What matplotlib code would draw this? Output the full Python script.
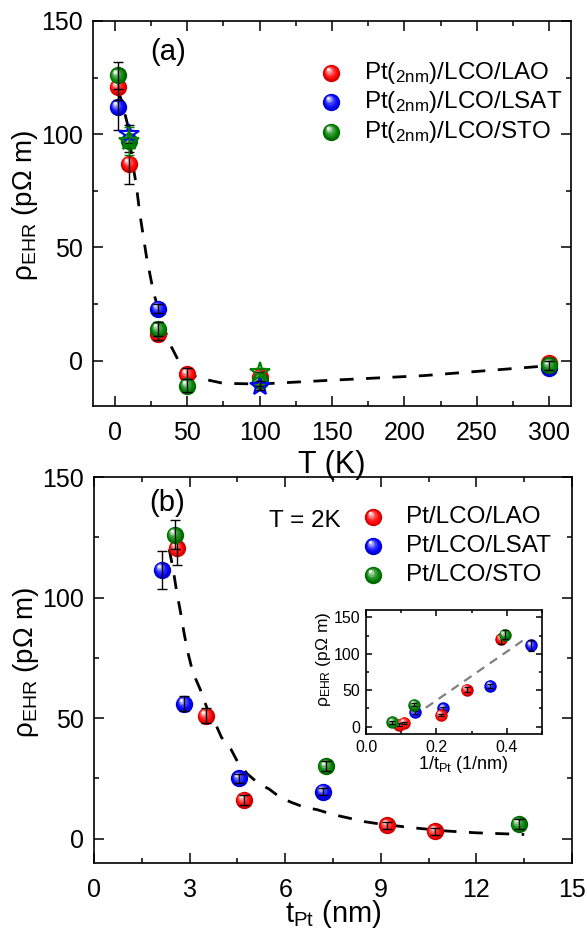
import numpy as np
import matplotlib
matplotlib.use("Agg")
import matplotlib.pyplot as plt
from matplotlib.ticker import MultipleLocator
from matplotlib.transforms import ScaledTranslation
from matplotlib.colors import to_rgb

plt.rcParams['font.family'] = ['Liberation Sans', 'DejaVu Sans']
plt.rcParams['mathtext.default'] = 'regular'

# ---------------- panel (a): temperature dependence (t_Pt = 2 nm) ----------------
T_lao = [2, 10, 30, 50, 100, 300]
rho_lao_T = [121, 87, 12, -6, -7, -1]
err_lao_T = [6, 9, 3, 3, 2, 2]

T_lsat = [2, 30, 300]
rho_lsat_T = [112, 23, -3]
err_lsat_T = [10, 2, 2]
T_lsat_star = [10, 100]
rho_lsat_star = [100, -11]
err_lsat_star = [4, 2]

T_sto = [2, 10, 30, 50, 100, 300]
rho_sto_T = [126, 97, 14, -11, -9, -2]
err_sto_T = [6, 5, 3, 3, 2, 2]
T_sto_star = [10, 100]
rho_sto_star = [97, -5]
err_sto_star = [6, 2]

T_guide = [2, 4.6, 8.6, 12.7, 15, 17.3, 21.9, 26.5, 32, 38, 44, 50, 57, 75, 100, 144, 213, 300]
rho_guide_T = [120, 115, 105, 86, 77, 65, 46, 31, 18, 7.5, 0, -4.5, -7.5, -10, -10.3, -8.8, -6.6, -2.2]

# ---------------- panel (b): thickness dependence at T = 2 K ----------------
t_lao = [2.6, 3.5, 4.7, 9.2, 10.7]
rho_lao_t = [120.5, 51, 16, 5.5, 3]
err_lao_t = [7, 3, 2, 1.5, 1.5]

t_lsat = [2.13, 2.83, 4.55, 7.2]
rho_lsat_t = [111.5, 56, 25, 19.5]
err_lsat_t = [8, 3, 2, 1.5]

t_sto = [2.54, 7.28, 13.33]
rho_sto_t = [126, 30, 6]
err_sto_t = [6, 2, 2]

t_guide = [2.36, 2.48, 2.6, 2.7, 2.83, 2.95, 3.1, 3.33, 3.55, 3.8, 4.0, 4.3, 4.5, 4.8,
           5.15, 5.5, 5.85, 6.2, 6.6, 7.0, 7.5, 8.0, 8.5, 9.0, 10.0, 11.0, 12.0, 13.5]
rho_guide_t = [120, 112, 102, 95, 85, 77, 69, 62, 54, 48, 42, 37, 32, 27,
               23, 20.5, 17, 15, 13, 12, 10, 8.5, 7, 6, 4.5, 3.2, 2.4, 1.7]

# linear guide in the inset (rho vs 1/t)
inv_fit_x = [0.17, 0.46]
inv_fit_y = [26, 123]

RED = '#ff0000'
BLUE = '#0000ff'
GREEN = '#008000'

labels_a = ['Pt($_{2nm}$)/LCO/LAO', 'Pt($_{2nm}$)/LCO/LSAT', 'Pt($_{2nm}$)/LCO/STO']
labels_b = ['Pt/LCO/LAO', 'Pt/LCO/LSAT', 'Pt/LCO/STO']
YLABEL = 'ρ$_{EHR}$ (pΩ m)'

fig = plt.figure(figsize=(5.87, 9.31), dpi=100)


def mix(c, other, f):
    c = np.array(to_rgb(c))
    o = np.array(to_rgb(other))
    return tuple(c * (1 - f) + o * f)


def ball(ax, x, y, color, ms, z=5, transform=None, n=7):
    """Glossy sphere marker: stacked discs fading to a highlight at upper left."""
    base = transform if transform is not None else ax.transData
    ax.plot(x, y, 'o', ms=ms, color=mix(color, 'black', 0.18), mew=0,
            transform=base, zorder=z, clip_on=False)
    for i in range(1, n):
        f = i / (n - 1)
        size = ms * (0.92 - 0.74 * f)
        col = mix(color, 'white', 0.92 * f ** 2.0)
        off = ScaledTranslation(-0.17 * ms * f / 72, 0.21 * ms * f / 72, fig.dpi_scale_trans)
        ax.plot(x, y, 'o', ms=size, color=col, mew=0, transform=base + off,
                zorder=z + 0.01 * i, clip_on=False)


def style_axes(ax, xmaj, xmin, ymaj, ymin, fs, L=7, xpad=11, ypad=7):
    ax.xaxis.set_major_locator(MultipleLocator(xmaj))
    ax.xaxis.set_minor_locator(MultipleLocator(xmin))
    ax.yaxis.set_major_locator(MultipleLocator(ymaj))
    ax.yaxis.set_minor_locator(MultipleLocator(ymin))
    ax.tick_params(which='both', direction='in', top=True, right=True, width=1.1)
    ax.tick_params(which='major', length=L, labelsize=fs)
    ax.tick_params(axis='x', which='major', pad=xpad)
    ax.tick_params(axis='y', which='major', pad=ypad)
    ax.tick_params(which='minor', length=L * 0.55)
    for s in ax.spines.values():
        s.set_linewidth(1.2)


def errs(ax, x, y, e, z=8, cs=3.5, color='k', lw=1.0):
    ax.errorbar(x, y, yerr=e, fmt='none', ecolor=color, elinewidth=lw,
                capsize=cs, capthick=lw, zorder=z)


MS = 12.5

# ---------------- panel (a) ----------------
axa = fig.add_axes([93 / 587, 1 - 406 / 931, 478 / 587, 385 / 931])
axa.set_xlim(-15, 315)
axa.set_ylim(-20, 150)
axa.plot(T_guide, rho_guide_T, color='k', lw=2.0, dashes=(5, 4.5), zorder=3)

ball(axa, T_lsat, rho_lsat_T, BLUE, MS, z=4)
errs(axa, T_lsat, rho_lsat_T, err_lsat_T, z=4.5)
ball(axa, T_lao, rho_lao_T, RED, MS, z=5)
errs(axa, T_lao, rho_lao_T, err_lao_T, z=5.5)
ball(axa, T_sto, rho_sto_T, GREEN, MS, z=6)
errs(axa, T_sto, rho_sto_T, err_sto_T, z=6.5)
axa.plot(T_lsat_star, rho_lsat_star, '*', ms=15, mfc='none', mec=BLUE, mew=1.5, zorder=7)
errs(axa, T_lsat_star, rho_lsat_star, err_lsat_star, z=7.2)
axa.plot(T_sto_star, rho_sto_star, '*', ms=15, mfc='none', mec=GREEN, mew=1.5, zorder=7.5)
errs(axa, T_sto_star, rho_sto_star, err_sto_star, z=7.6, color=GREEN)

style_axes(axa, 50, 25, 50, 25, 18)
axa.set_xlabel('T (K)', fontsize=22)
axa.xaxis.set_label_coords(0.5, -0.113)
axa.set_ylabel(YLABEL, fontsize=20)
axa.yaxis.set_label_coords(-0.111, 0.52)
axa.text(0.157, 0.92, '(a)', transform=axa.transAxes, fontsize=21,
         ha='center', va='center')

for yy, c, lab in zip([0.865, 0.79, 0.712], [RED, BLUE, GREEN], labels_a):
    ball(axa, [0.498], [yy], c, MS, z=9, transform=axa.transAxes)
    axa.text(0.566, yy, lab, transform=axa.transAxes, fontsize=17.5, va='center', ha='left')

# ---------------- panel (b) ----------------
axb = fig.add_axes([94 / 587, 1 - 862.7 / 931, 478 / 587, 385.7 / 931])
axb.patch.set_alpha(0)
axb.set_xlim(0, 15)
axb.set_ylim(-10, 150)
axb.plot(t_guide, rho_guide_t, color='k', lw=2.0, dashes=(5, 4.5), zorder=3)

ball(axb, t_lsat, rho_lsat_t, BLUE, MS, z=4)
errs(axb, t_lsat, rho_lsat_t, err_lsat_t, z=4.5)
ball(axb, t_lao, rho_lao_t, RED, MS, z=5)
errs(axb, t_lao, rho_lao_t, err_lao_t, z=5.5)
ball(axb, t_sto, rho_sto_t, GREEN, MS, z=6)
errs(axb, t_sto, rho_sto_t, err_sto_t, z=6.5)

style_axes(axb, 3, 1.5, 50, 25, 18)
axb.set_xlabel('t$_{Pt}$ (nm)', fontsize=21)
axb.xaxis.set_label_coords(0.5, -0.092)
axb.set_ylabel(YLABEL, fontsize=20)
axb.yaxis.set_label_coords(-0.111, 0.52)
axb.text(0.153, 0.933, '(b)', transform=axb.transAxes, fontsize=21,
         ha='center', va='center')
axb.text(0.44, 0.886, 'T = 2K', transform=axb.transAxes, fontsize=17.5,
         ha='center', va='center')

for yy, c, lab in zip([0.896, 0.821, 0.746], [RED, BLUE, GREEN], labels_b):
    ball(axb, [0.584], [yy], c, MS, z=9, transform=axb.transAxes)
    axb.text(0.652, yy, lab, transform=axb.transAxes, fontsize=17.5, va='center', ha='left')

# ---------------- inset: rho vs 1/t ----------------
axi = fig.add_axes([366 / 587, 1 - 734 / 931, 176 / 587, 124 / 931])
axi.set_xlim(0, 0.5)
axi.set_ylim(-10, 160)
axi.plot(inv_fit_x, inv_fit_y, color='#808080', lw=1.6, dashes=(4, 3), zorder=3)
MSI = 9
for t, r, e, c, z in [(t_lsat, rho_lsat_t, err_lsat_t, BLUE, 4),
                      (t_lao, rho_lao_t, err_lao_t, RED, 5),
                      (t_sto, rho_sto_t, err_sto_t, GREEN, 6)]:
    inv = 1.0 / np.asarray(t)
    ball(axi, inv, r, c, MSI, z=z)
    errs(axi, inv, r, e, z=z + 0.5, cs=2.5, lw=0.9)

style_axes(axi, 0.2, 0.1, 50, 25, 11.5, L=4.5, xpad=4, ypad=4)
axi.set_xlabel('1/t$_{Pt}$ (1/nm)', fontsize=13)
axi.xaxis.set_label_coords(0.55, -0.16)
axi.set_ylabel(YLABEL, fontsize=12.5)
axi.yaxis.set_label_coords(-0.19, 0.6)

fig.savefig('out.png', dpi=100)
